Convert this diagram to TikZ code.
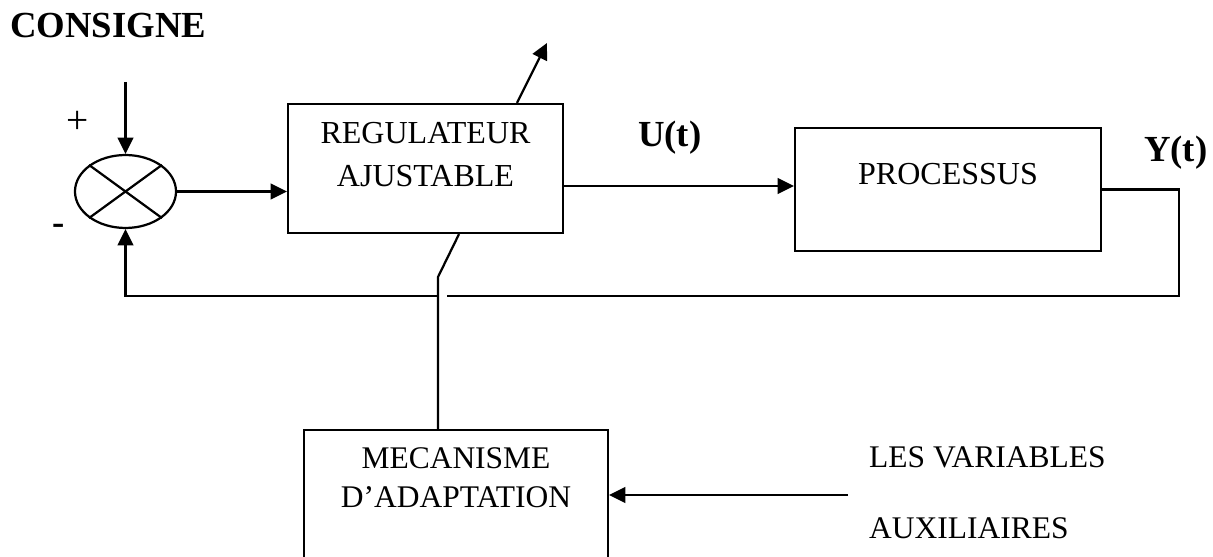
\documentclass[tikz,border=0pt]{standalone}
\usepackage{fontspec}
\setmainfont{Liberation Serif}
\usetikzlibrary{arrows.meta,fit,shapes.geometric}
\tikzset{
	blk/.style={draw,inner sep=0pt},
	txt/.style={align=center,font=\fontsize{12.2}{16.4}\selectfont},
	sig/.style={font=\fontsize{14}{17}\selectfont\bfseries},
}
\begin{document}
\begin{tikzpicture}[x=0.381pt,y=-0.381pt,line width=0.85pt,>={Triangle[length=6.2pt,width=6pt]}]
		\useasboundingbox (0,0) rectangle (1213,557);
		\node[draw,ellipse,inner sep=0pt,minimum width=38.5pt,minimum height=27.8pt] (1) at (125.5,191.5) {};
		\node[blk,fit={(288,104) (563,233)}] (2) {};
		\node[blk,fit={(795,128) (1101,251)}] (3) {};
		\node[blk,fit={(304,430) (608,562)}] (4) {};
		\node[txt,anchor=base] (t2) at (425.5,187) {REGULATEUR\\AJUSTABLE};
		\node[txt,anchor=base] (t3) at (948,185) {PROCESSUS};
		\node[txt,font=\fontsize{12}{14.5}\selectfont,anchor=base] (t4) at (456,507) {MECANISME\\D’ADAPTATION};
		\node[txt,align=left,font=\fontsize{12}{27}\selectfont,anchor=base west,inner sep=0pt] (t5) at (868,538) {LES VARIABLES\\AUXILIAIRES};
		\node[sig,anchor=base west,inner sep=0pt] (c) at (9,38) {CONSIGNE};
		\node[sig,anchor=base west,inner sep=0pt] (u) at (637,147) {U(t)};
		\node[sig,anchor=base west,inner sep=0pt] (y) at (1143,162) {Y(t)};
		\node[txt,font=\fontsize{15}{17}\selectfont] (p) at (78,122) {+};
		\node[sig] (m) at (59,229) {-};
		\coordinate (in) at (125.5,82);
		\coordinate (out) at (547,43);
		\coordinate (k) at (438,277);
		\coordinate (r) at (1179,296);
		\coordinate (g1) at (447,296);
		\coordinate (g2) at (438,296);
		\coordinate (v) at (848,495);
		\draw (1.north west) -- (1.south east) (1.north east) -- (1.south west);
		\draw[->] (in) -- (1.north);
		\draw[->] (1.east) -- (1.east -| 2.west);
		\draw[->] (2.east |- 0,186) -- (3.west |- 0,186);
		\draw (3.east) -| (r) -- (g1);
		\draw[->] (g2) -| (1.south);
		\draw[->] (2.north -| 517,0) -- (out);
		\draw (2.south -| 459,0) -- (k) -- (4.north -| k);
		\draw[->] (v) -- (4.east |- v);
	\end{tikzpicture}
\end{document}
